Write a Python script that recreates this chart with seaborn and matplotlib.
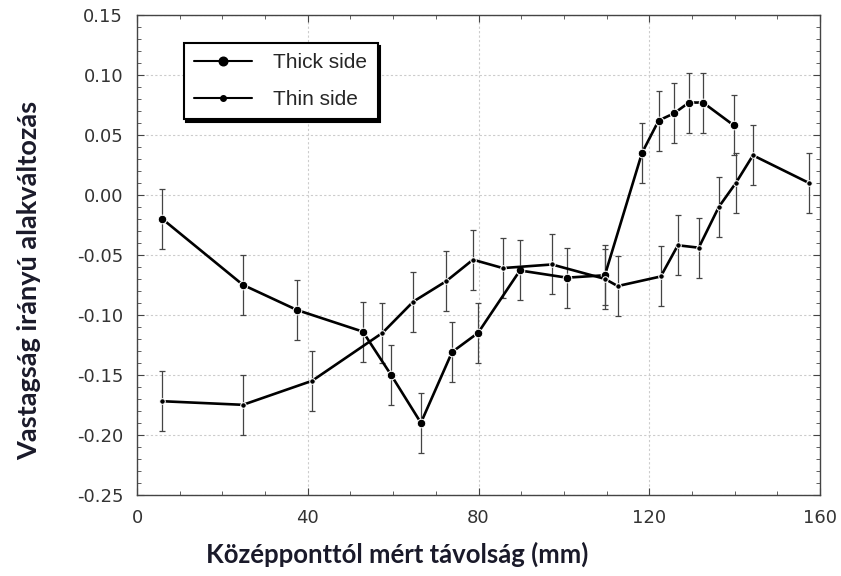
# Thickness-direction strain vs distance from centre

import numpy as np
import pandas as pd
import matplotlib
matplotlib.use("Agg")
import matplotlib.pyplot as plt
import seaborn as sns
from matplotlib.ticker import MultipleLocator


# Data

thick_x = [5.9, 24.8, 37.5, 52.9, 59.5, 66.5, 73.8, 79.9, 89.7, 100.7, 109.6,
           118.3, 122.2, 125.8, 129.3, 132.6, 139.8]
thick_y = [-0.020, -0.075, -0.096, -0.114, -0.150, -0.190, -0.131, -0.115, -0.063,
           -0.069, -0.067, 0.035, 0.062, 0.068, 0.077, 0.077, 0.058]
thick_err = [0.025, 0.025, 0.025, 0.025, 0.025, 0.025, 0.025, 0.025, 0.025,
             0.025, 0.025, 0.025, 0.025, 0.025, 0.025, 0.025, 0.025]

thin_x = [5.9, 24.8, 41.0, 57.5, 64.7, 72.4, 78.7, 85.7, 97.2, 109.6, 112.6,
          122.7, 126.7, 131.6, 136.3, 140.3, 144.3, 157.4]
thin_y = [-0.172, -0.175, -0.155, -0.115, -0.089, -0.072, -0.054, -0.061, -0.058,
          -0.070, -0.076, -0.068, -0.042, -0.044, -0.010, 0.010, 0.033, 0.010]
thin_err = [0.025, 0.025, 0.025, 0.025, 0.025, 0.025, 0.025, 0.025, 0.025,
            0.025, 0.025, 0.025, 0.025, 0.025, 0.025, 0.025, 0.025, 0.025]

y_ticks = [-0.25, -0.20, -0.15, -0.10, -0.05, 0.00, 0.05, 0.10, 0.15]
y_tick_labels = ["-0.25", "-0.20", "-0.15", "-0.10", "-0.05", "0.00", "0.05", "0.10", "0.15"]

df = pd.concat([
    pd.DataFrame({"x": thick_x, "y": thick_y, "err": thick_err, "side": "Thick side"}),
    pd.DataFrame({"x": thin_x, "y": thin_y, "err": thin_err, "side": "Thin side"}),
])


sns.set_style("ticks")
plt.rcParams["font.family"] = ["Liberation Sans", "DejaVu Sans"]

fig = plt.figure(figsize=(8.41, 5.76), dpi=100)
ax = fig.add_axes([0.163, 0.141, 0.812, 0.833])

# error bars
for side in ["Thick side", "Thin side"]:
    d = df[df["side"] == side]
    ax.errorbar(d["x"], d["y"], yerr=d["err"], fmt="none", ecolor="#444444",
                elinewidth=0.9, capsize=2, capthick=0.9, zorder=2)

sns.lineplot(data=df, x="x", y="y", hue="side", style="side",
             palette={"Thick side": "black", "Thin side": "black"},
             markers={"Thick side": "o", "Thin side": "o"}, dashes=False,
             linewidth=1.9, ax=ax, zorder=3, legend=False)

# marker sizes differ between series
lines = ax.get_lines()
lines[-2].set_markersize(6.2)
lines[-1].set_markersize(4)

ax.set_xlim(0, 160)
ax.set_ylim(-0.25, 0.15)
ax.xaxis.set_major_locator(MultipleLocator(40))
ax.xaxis.set_minor_locator(MultipleLocator(10))
ax.yaxis.set_minor_locator(MultipleLocator(0.01))
ax.set_yticks(y_ticks)
ax.set_yticklabels(y_tick_labels)
ax.tick_params(which="both", direction="in", top=True, right=True, colors="#444444")
ax.tick_params(which="major", length=5, labelsize=13, labelcolor="#333333", pad=10)
ax.tick_params(which="minor", length=3)
for lab in ax.get_xticklabels() + ax.get_yticklabels():
    lab.set_family(["DejaVu Sans"])
ax.grid(True, which="major", color="#cccccc", linestyle=(0, (2, 2)), linewidth=0.8)
for s in ax.spines.values():
    s.set_color("#444444")
    s.set_linewidth(1.0)

ax.set_xlabel("Középponttól mért távolság (mm)", family=["Lato", "DejaVu Sans"],
              fontsize=18.5, fontweight="bold", color="#1a1a2a", va="top")
ax.xaxis.set_label_coords(0.381, -0.098)
ax.set_ylabel("Vastagság irányú alakváltozás", family=["Lato", "DejaVu Sans"],
              fontsize=19.5, fontweight="bold", color="#1a1a2a")
ax.yaxis.set_label_coords(-0.140, 0.446)

# legend
handles = [
    plt.Line2D([], [], color="black", marker="o", markersize=6.2, linewidth=1.5),
    plt.Line2D([], [], color="black", marker="o", markersize=4, linewidth=1.5),
]
leg = ax.legend(handles, ["Thick side", "Thin side"], loc="upper left",
                bbox_to_anchor=(0.068, 0.942), borderaxespad=0, fontsize=15,
                frameon=True, fancybox=False, edgecolor="black", framealpha=1,
                shadow={"color": "black", "alpha": 1}, handlelength=2.8,
                borderpad=0.5, labelspacing=0.85, handletextpad=1.0)
leg.get_frame().set_linewidth(1.5)

fig.savefig("out.png", dpi=100)
